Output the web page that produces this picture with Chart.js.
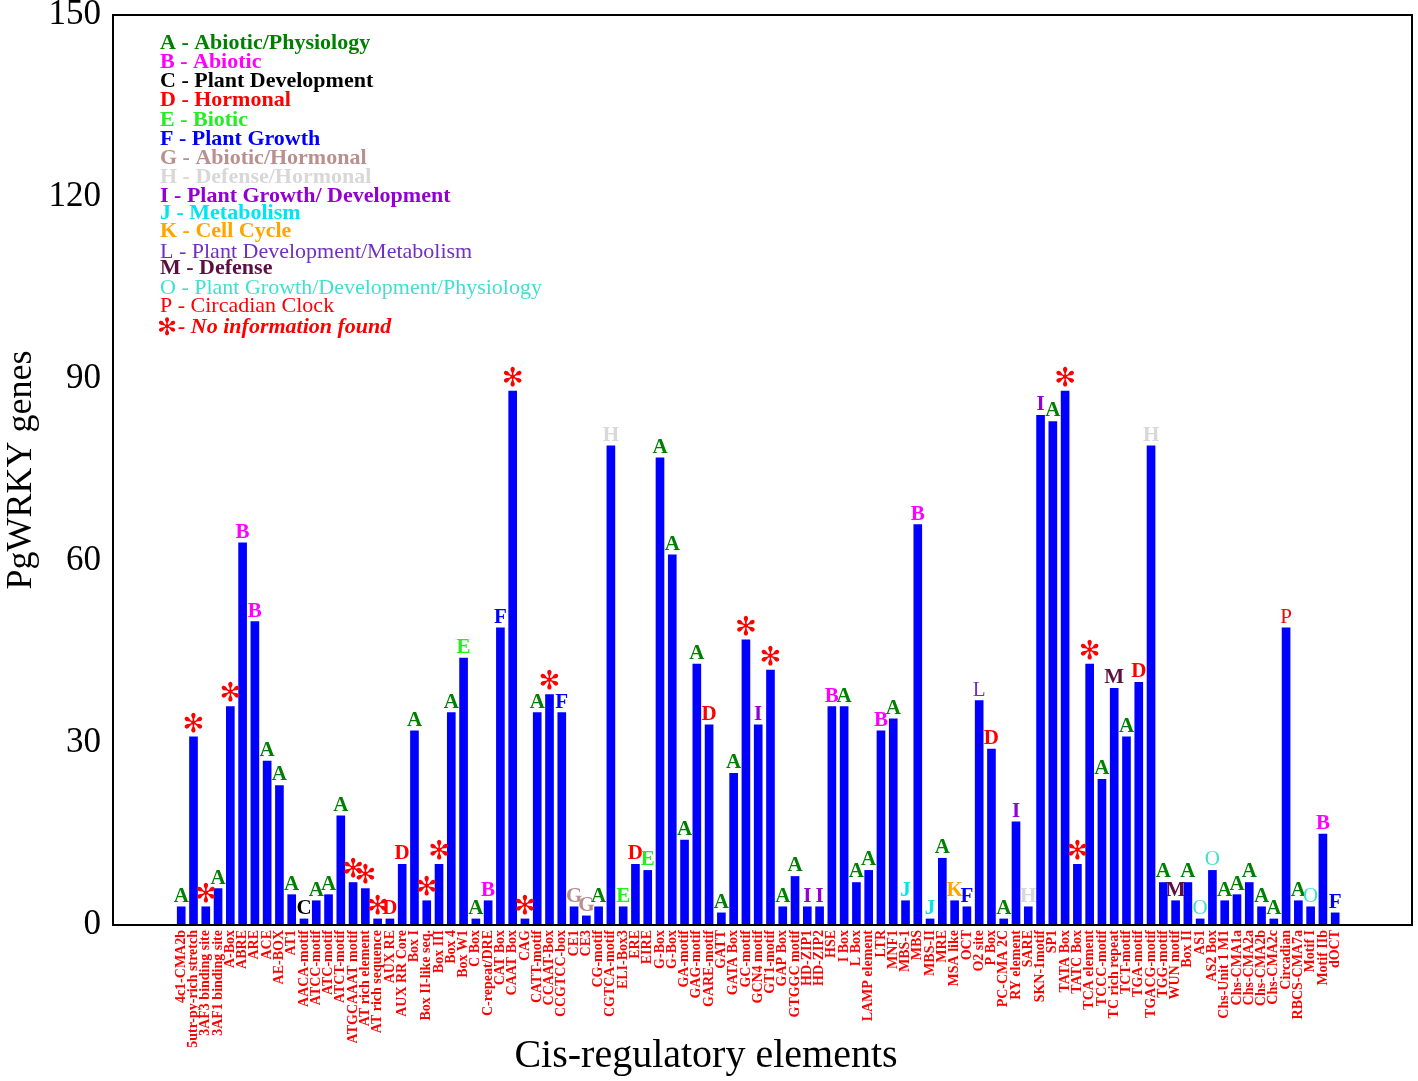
<!DOCTYPE html>
<html>
<head>
<meta charset="utf-8">
<script src="https://cdn.jsdelivr.net/npm/chart.js@4.4.1/dist/chart.umd.min.js"></script>
<style>
  body { margin: 0; background: #fff; }
  canvas { display: block; }
</style>
</head>
<body>
<canvas id="chart" width="1418" height="1081"></canvas>
<script>
var categories = [
    "4c1-CMA2b", "5utr-py-rich stretch", "3AF3 binding site", "3AF1 binding site", "A-Box",
    "ABRE", "ARE", "ACE", "AE-BOX", "AT1",
    "AACA-motif", "ATCC-motif", "ATC-motif", "ATCT-motif", "ATGCAAAT motif",
    "AT rich element", "AT rich sequence", "AUX RE", "AUX RR Core", "Box I",
    "Box II-like seq.", "Box III", "Box 4", "Box W1", "C Box",
    "C-repeat/DRE", "CAT Box", "CAAT Box", "CAG", "CATT-motif",
    "CCAAT-Box", "CCGTCC-box", "CE1", "CE3", "CG-motif",
    "CGTCA-motif", "ELI-Box3", "ERE", "EIRE", "G-Box",
    "G-Box", "GA-motif", "GAG-motif", "GARE-motif", "GATT",
    "GATA Box", "GC-motif", "GCN4 motif", "GT1-motif", "GAP Box",
    "GTGGC motif", "HD-ZIP1", "HD-ZIP2", "HSE", "I Box",
    "L Box", "LAMP element", "LTR", "MNF1", "MBS-1",
    "MBS", "MBS-II", "MRE", "MSA like", "OCT",
    "O2 site", "P Box", "PC-CMA 2C", "RY element", "SARE",
    "SKN-1motif", "SP1", "TATA Box", "TATC Box", "TCA element",
    "TCCC-motif", "TC rich repeat", "TCT-motif", "TGA-motif", "TGACG-motif",
    "TGG-motif", "WUN motif", "Box II", "AS1", "AS2 Box",
    "Chs-Unit 1 M1", "Chs-CMA1a", "Chs-CMA2a", "Chs-CMA2b", "Chs-CMA2c",
    "Circadian", "RBCS-CMA7a", "Motif I", "Motif IIb", "dOCT"
];

var geneCounts = [
    3, 31, 3, 6, 36,
    63, 50, 27, 23, 5,
    1, 4, 5, 18, 7,
    6, 1, 1, 10, 32,
    4, 10, 35, 44, 1,
    4, 49, 88, 1, 35,
    38, 35, 3, 1.5, 3,
    79, 3, 10, 9, 77,
    61, 14, 43, 33, 2,
    25, 47, 33, 42, 3,
    8, 3, 3, 36, 36,
    7, 9, 32, 34, 4,
    66, 1, 11, 4, 3,
    37, 29, 1, 17, 3,
    84, 83, 88, 10, 43,
    24, 39, 31, 40, 79,
    7, 4, 7, 1, 9,
    4, 5, 7, 3, 1,
    49, 4, 3, 15, 2
];

// function class of each element ("*" = no information found)
var classCodes = [
    "A", "*", "*", "A", "*",
    "B", "B", "A", "A", "A",
    "C", "A", "A", "A", "*",
    "*", "*", "D", "D", "A",
    "*", "*", "A", "E", "A",
    "B", "F", "*", "*", "A",
    "*", "F", "G", "G", "A",
    "H", "E", "D", "E", "A",
    "A", "A", "A", "D", "A",
    "A", "*", "I", "*", "A",
    "A", "I", "I", "B", "A",
    "A", "A", "B", "A", "J",
    "B", "J", "A", "K", "F",
    "L", "D", "A", "I", "H",
    "I", "A", "*", "*", "*",
    "A", "M", "A", "D", "H",
    "A", "M", "A", "O", "O",
    "A", "A", "A", "A", "A",
    "P", "A", "O", "B", "F"
];

var yTicks = [0, 30, 60, 90, 120, 150];

var legendCodes = ["A", "B", "C", "D", "E", "F", "G", "H", "I", "J", "K", "L", "M", "O", "P", "*"];
var legendNames = [
    "Abiotic/Physiology", "Abiotic", "Plant Development", "Hormonal", "Biotic",
    "Plant Growth", "Abiotic/Hormonal", "Defense/Hormonal", "Plant Growth/ Development",
    "Metabolism", "Cell Cycle", "Plant Development/Metabolism", "Defense",
    "Plant Growth/Development/Physiology", "Circadian Clock", "No information found"
];

var codeColors = {
    "A": "#008000", "B": "#ff00ff", "C": "#000000", "D": "#ff0000",
    "E": "#22ee22", "F": "#0000ff", "G": "#bc8f8f", "H": "#d8d8d8",
    "I": "#9400d3", "J": "#00e5ee", "K": "#ffa500", "L": "#7030c0",
    "M": "#5c0f40", "O": "#40e0d0", "P": "#ff0000", "*": "#ff0000"
};
var thinCodes = ["L", "O", "P"];
var serif = "'Liberation Serif', 'DejaVu Serif', serif";
var starGlyph = "\u273B";

function codeFont(code, size) {
    if (code === "*") return "bold " + (size + 5) + "px 'DejaVu Sans'";
    return (thinCodes.indexOf(code) >= 0 ? "" : "bold ") + size + "px " + serif;
}

// letters above bars
var barLetters = {
    id: "barLetters",
    afterDatasetsDraw: function (chart) {
        var ctx = chart.ctx;
        var meta = chart.getDatasetMeta(0);
        ctx.save();
        ctx.textAlign = "center";
        ctx.textBaseline = "bottom";
        for (var i = 0; i < meta.data.length; i++) {
            var bar = meta.data[i];
            var code = classCodes[i];
            ctx.font = codeFont(code, 21);
            ctx.fillStyle = codeColors[code];
            var txt = code === "*" ? starGlyph : code;
            ctx.fillText(txt, bar.x, bar.y + (code === "*" ? 1 : 0));
        }
        ctx.restore();
    }
};

// frame, legend and x title
var decorations = {
    id: "decorations",
    afterDraw: function (chart) {
        var ctx = chart.ctx;
        var a = chart.chartArea;
        ctx.save();
        ctx.strokeStyle = "#000";
        ctx.lineWidth = 2;
        ctx.strokeRect(a.left, a.top, a.right - a.left, a.bottom - a.top);

        ctx.textBaseline = "middle";
        ctx.textAlign = "left";
        var y = 43;
        var steps = [19.2, 19.5, 19, 19.2, 19.2, 19, 19.2, 19, 17.5, 18, 20, 17, 19, 18.5, 21];
        for (var i = 0; i < legendCodes.length; i++) {
            var code = legendCodes[i];
            ctx.fillStyle = codeColors[code];
            if (code === "*") {
                ctx.font = "bold 24px 'DejaVu Sans'";
                ctx.fillText(starGlyph, 157, y + 1);
                ctx.font = "italic bold 22px " + serif;
                ctx.fillText("- " + legendNames[i], 178, y);
            } else {
                ctx.font = codeFont(code, 22);
                ctx.fillText(code + " - " + legendNames[i], 160, y);
            }
            y += steps[i] || 19;
        }

        ctx.fillStyle = "#000";
        ctx.textAlign = "center";
        ctx.font = "40px " + serif;
        ctx.fillText("Cis-regulatory elements", 706, 1056);
        ctx.restore();
    }
};

new Chart(document.getElementById("chart"), {
    type: "bar",
    data: {
        datasets: [{
            data: geneCounts.map(function (v, i) { return { x: i, y: v }; }),
            backgroundColor: "#0000ff",
            borderWidth: 0,
            barThickness: 8
        }]
    },
    plugins: [barLetters, decorations],
    options: {
        responsive: false,
        devicePixelRatio: 1,
        animation: false,
        layout: { padding: { top: 15, right: 6, left: 0, bottom: 0 } },
        plugins: { legend: { display: false }, tooltip: { enabled: false } },
        scales: {
            x: {
                type: "linear",
                min: -5,
                max: 99.7,
                grid: { display: false, drawTicks: false },
                border: { display: false },
                afterBuildTicks: function (axis) {
                    axis.ticks = categories.map(function (c, i) { return { value: i }; });
                },
                afterFit: function (axis) {
                    axis.height = 156;
                    axis.paddingLeft = 0;
                    axis.paddingRight = 0;
                },
                ticks: {
                    autoSkip: false,
                    maxRotation: 90,
                    minRotation: 90,
                    padding: 5,
                    color: "#ff0000",
                    font: { family: serif, size: 14, weight: "bold" },
                    callback: function (value) { return categories[value]; }
                }
            },
            y: {
                min: 0,
                max: 150,
                grid: { display: false, drawTicks: false },
                border: { display: false },
                afterBuildTicks: function (axis) {
                    axis.ticks = yTicks.map(function (v) { return { value: v }; });
                },
                afterFit: function (axis) {
                    axis.width = 113;
                    axis.paddingTop = 0;
                    axis.paddingBottom = 0;
                },
                ticks: {
                    padding: 12,
                    color: "#000",
                    font: { family: serif, size: 35 }
                },
                title: {
                    display: true,
                    text: "PgWRKY genes",
                    color: "#000",
                    padding: 0,
                    font: { family: serif, size: 36 }
                }
            }
        }
    }
});
</script>
</body>
</html>
